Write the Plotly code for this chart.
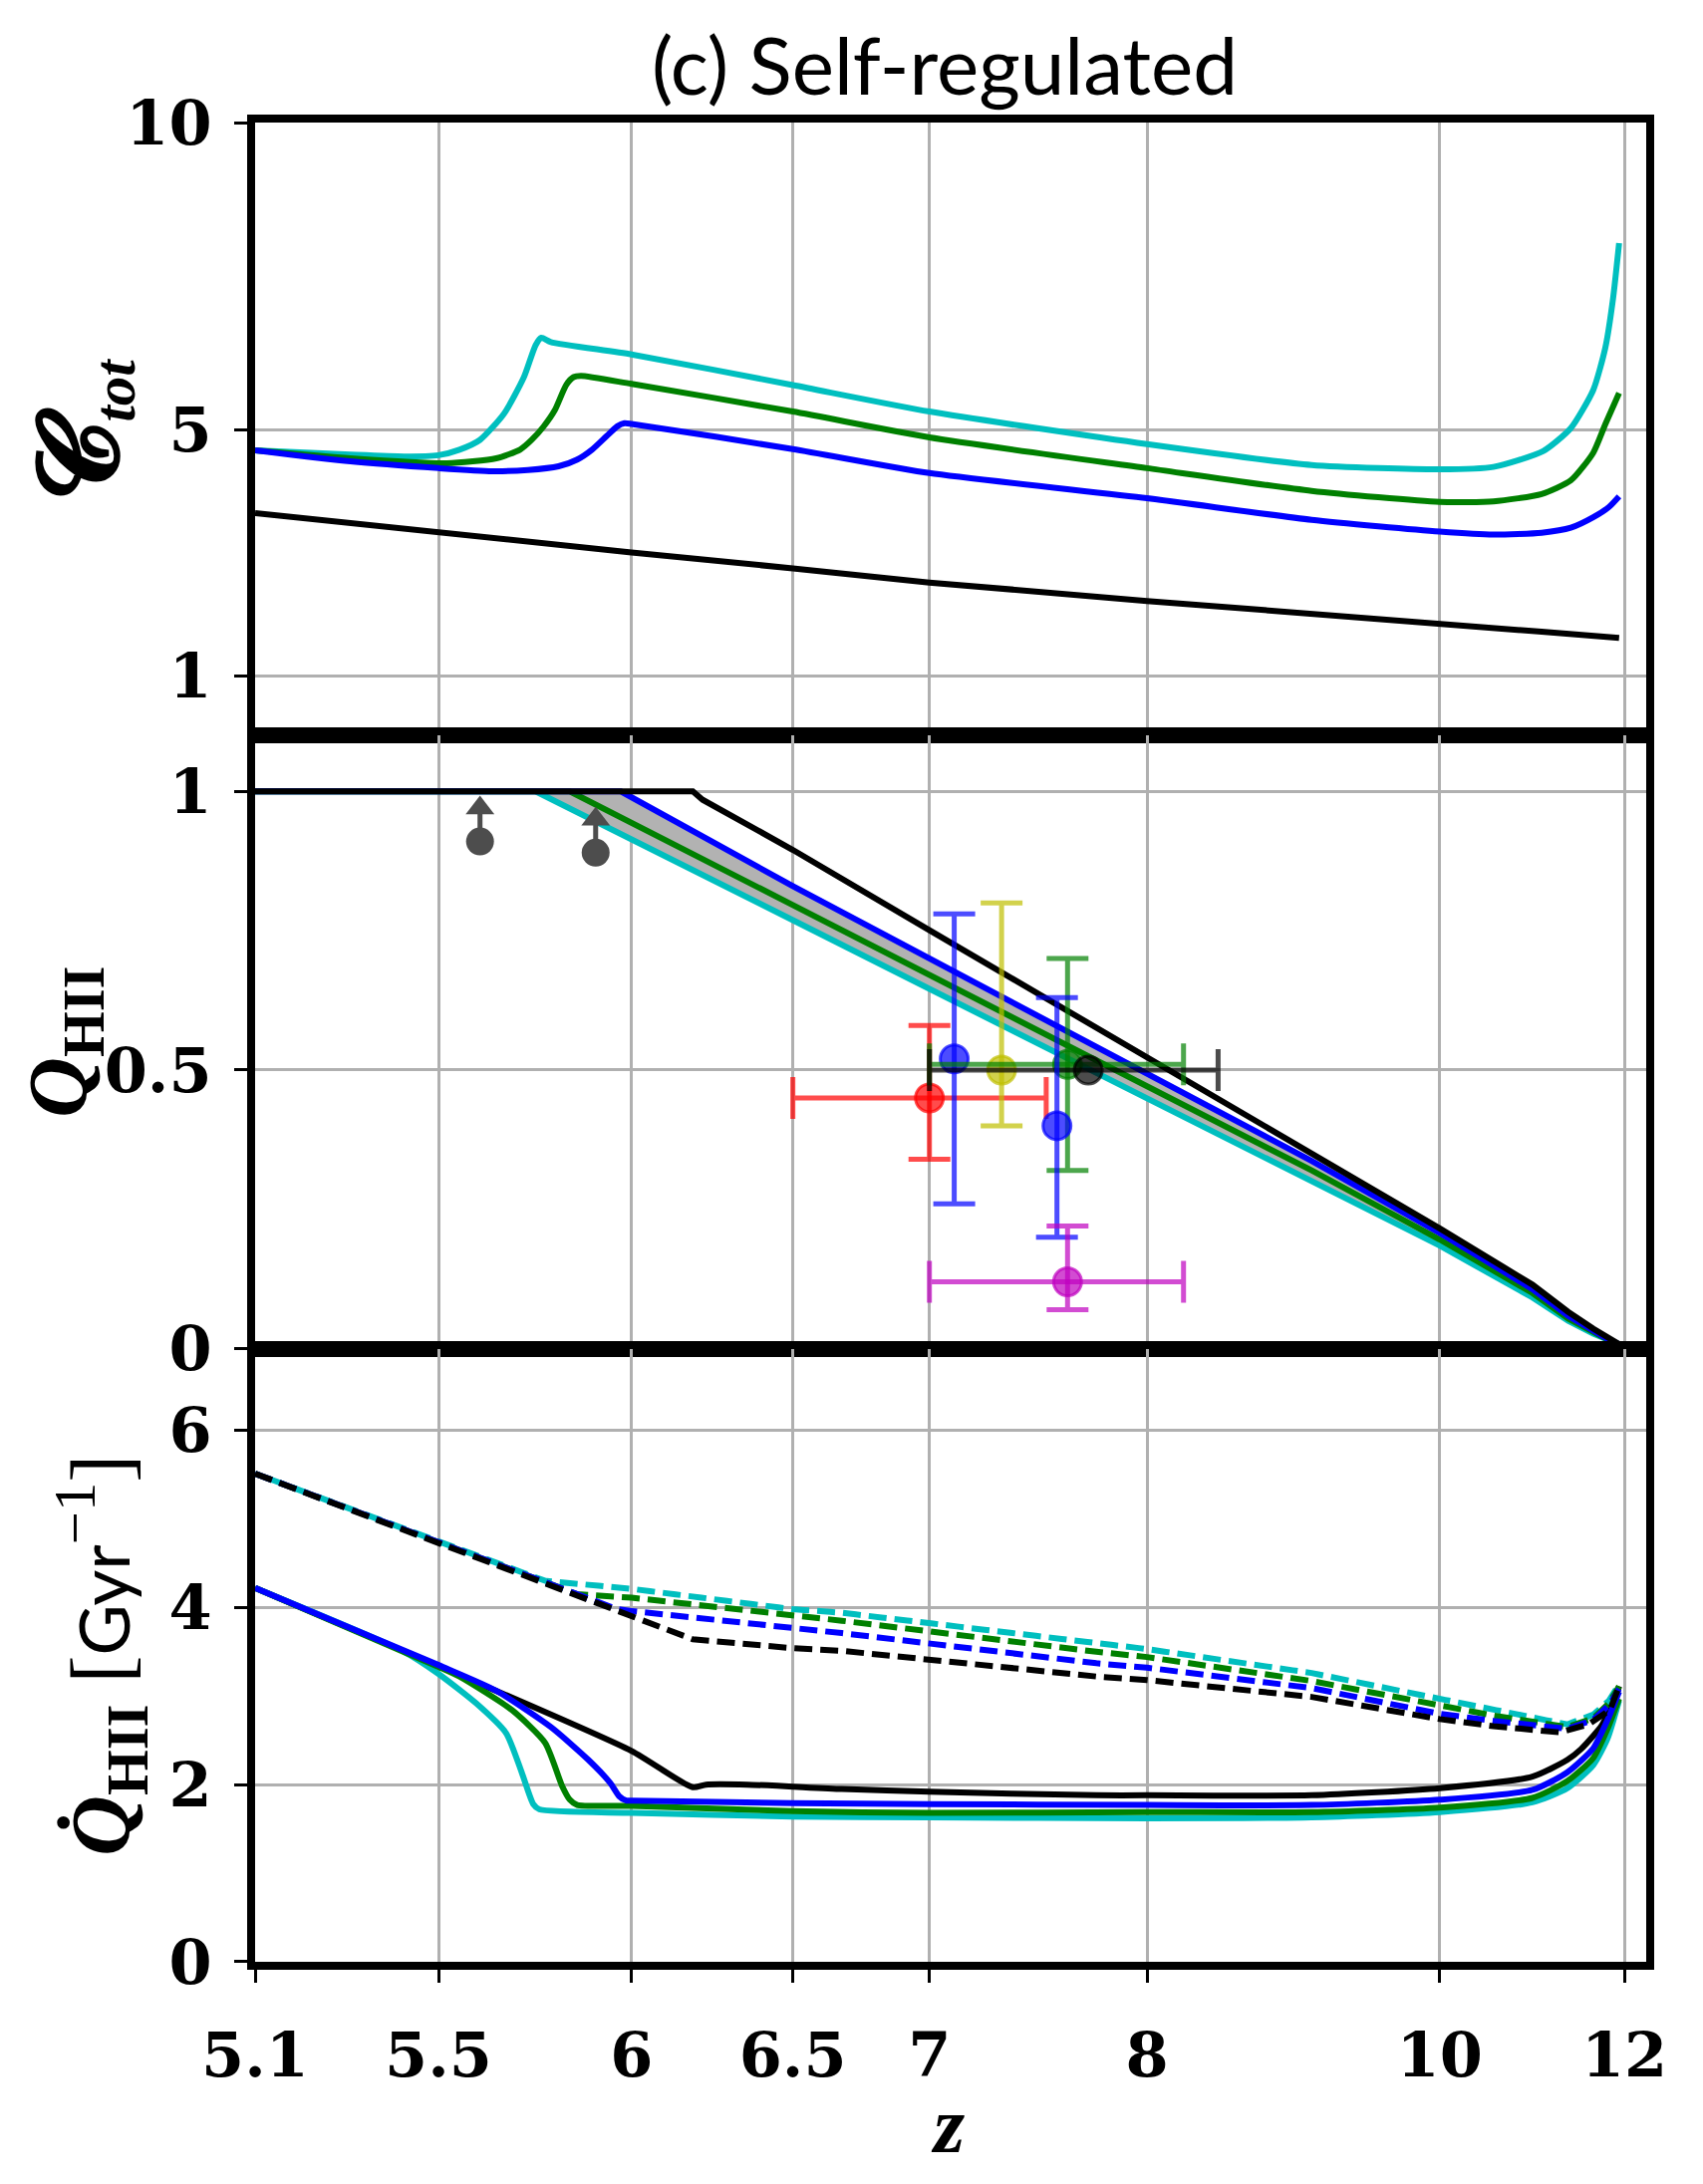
import numpy as np
import plotly.graph_objects as go
from plotly.subplots import make_subplots

# x axis is linear in cosmic time (t ~ (1+z)^-1.5), labelled in redshift
Z_TICKS = [5.1, 5.5, 6, 6.5, 7, 8, 10, 12]
Z_TICK_TEXT = ["5.1", "5.5", "6", "6.5", "7", "8", "10", "12"]
Z_MIN, Z_MAX = 5.1, 12.3

# ---- panel (a): clumping factor C_tot ----
C_BLACK_Z = [5.1, 5.5, 6.0, 6.5, 7.0, 8.0, 9.0, 10.0, 11.0, 11.93]
C_BLACK = [3.65, 3.33, 3.01, 2.75, 2.52, 2.22, 2.02, 1.85, 1.72, 1.62]
C_BLUE_Z = [5.1, 5.3, 5.5, 5.63, 5.72, 5.8, 5.85, 5.89, 5.93, 5.96, 5.98, 6.0,
            6.5, 7.0, 8.0, 9.0, 10.0, 10.5, 11.0, 11.33, 11.6, 11.8, 11.93]
C_BLUE = [4.67, 4.49, 4.38, 4.33, 4.35, 4.41, 4.52, 4.68, 4.90, 5.06, 5.11, 5.10,
          4.69, 4.30, 3.89, 3.54, 3.35, 3.30, 3.33, 3.41, 3.58, 3.75, 3.92]
C_GREEN_Z = [5.1, 5.3, 5.52, 5.64, 5.7, 5.73, 5.76, 5.79, 5.82, 5.84, 5.86, 6.0,
             6.5, 7.0, 8.0, 9.0, 10.0, 10.5, 11.0, 11.33, 11.6, 11.75, 11.93]
C_GREEN = [4.67, 4.54, 4.46, 4.54, 4.68, 4.84, 5.05, 5.32, 5.73, 5.86, 5.88, 5.75,
           5.30, 4.88, 4.38, 4.01, 3.83, 3.84, 3.96, 4.18, 4.63, 5.09, 5.60]
C_CYAN_Z = [5.1, 5.3, 5.42, 5.5, 5.55, 5.6, 5.66, 5.71, 5.74, 5.755, 5.78, 6.0,
            6.5, 7.0, 8.0, 9.0, 10.0, 10.5, 11.02, 11.33, 11.6, 11.75, 11.85, 11.93]
C_CYAN = [4.67, 4.60, 4.57, 4.59, 4.68, 4.84, 5.27, 5.86, 6.38, 6.50, 6.43, 6.23,
          5.73, 5.30, 4.77, 4.43, 4.36, 4.40, 4.66, 5.03, 5.65, 6.33, 7.13, 8.04]

# ---- panel (b): ionized fraction Q_HII ----
Q_BLACK_Z = [5.1, 6.18, 6.21, 6.5, 7.0, 8.0, 9.0, 10.0, 10.9, 11.3, 11.6, 11.8, 11.93]
Q_BLACK = [1.0, 1.0, 0.985, 0.895, 0.751, 0.522, 0.349, 0.216, 0.115, 0.066, 0.036, 0.018, 0.008]
Q_BLUE_Z = [5.1, 5.97, 6.5, 7.0, 8.0, 9.0, 10.0, 10.9, 11.3, 11.6, 11.8, 11.93]
Q_BLUE = [1.0, 1.0, 0.83, 0.70, 0.495, 0.337, 0.208, 0.107, 0.059, 0.031, 0.016, 0.008]
Q_GREEN_Z = [5.1, 5.83, 6.5, 7.0, 8.0, 9.0, 10.0, 10.9, 11.3, 11.6, 11.8, 11.93]
Q_GREEN = [1.0, 1.0, 0.796, 0.670, 0.471, 0.320, 0.196, 0.100, 0.054, 0.029, 0.015, 0.008]
Q_CYAN_Z = [5.1, 5.74, 6.5, 7.0, 8.0, 9.0, 10.0, 10.9, 11.3, 11.6, 11.8, 11.93]
Q_CYAN = [1.0, 1.0, 0.769, 0.646, 0.451, 0.303, 0.185, 0.092, 0.050, 0.027, 0.014, 0.008]

# observational constraints
OBS_Z = [7.0, 7.1, 7.3, 7.6, 7.7, 7.55, 7.6]
OBS_Q = [0.45, 0.52, 0.50, 0.51, 0.50, 0.40, 0.12]
OBS_Z_LO = [0.5, 0.0, 0.0, 0.6, 0.7, 0.0, 0.6]
OBS_Z_HI = [0.5, 0.0, 0.0, 0.6, 0.7, 0.0, 0.6]
OBS_Q_LO = [0.11, 0.26, 0.10, 0.19, 0.0, 0.20, 0.05]
OBS_Q_HI = [0.13, 0.26, 0.30, 0.19, 0.0, 0.23, 0.10]
OBS_RGB = ["255,0,0", "0,0,255", "191,191,0", "0,128,0", "0,0,0", "0,0,255", "191,0,191"]
LIM_Z = [5.6, 5.9]
LIM_Q = [0.91, 0.89]

# ---- panel (c): dQ/dt ----
R_BLACK_Z = [5.1, 5.5, 6.0, 6.18, 6.22, 6.35, 6.67, 7.0, 7.74, 8.0, 9.0, 10.0,
             10.9, 11.29, 11.45, 11.6, 11.7, 11.78, 11.87, 11.93]
R_BLACK = [4.22, 3.34, 2.38, 1.97, 2.00, 2.00, 1.95, 1.92, 1.88, 1.88, 1.88, 1.96,
           2.09, 2.28, 2.40, 2.55, 2.66, 2.79, 2.95, 3.11]
R_BLUE_Z = [5.1, 5.5, 5.64, 5.78, 5.88, 5.94, 5.965, 5.985, 6.0, 6.5, 7.0, 8.0, 9.0,
            10.0, 10.9, 11.29, 11.6, 11.78, 11.93]
R_BLUE = [4.22, 3.35, 3.06, 2.65, 2.28, 2.02, 1.87, 1.82, 1.82, 1.79, 1.78, 1.77, 1.77,
          1.83, 1.94, 2.14, 2.41, 2.73, 3.05]
R_GREEN_Z = [5.1, 5.5, 5.55, 5.68, 5.765, 5.81, 5.83, 5.85, 6.0, 6.5, 7.0, 8.0, 9.0,
             10.0, 10.9, 11.29, 11.6, 11.78, 11.93]
R_GREEN = [4.22, 3.33, 3.22, 2.84, 2.47, 1.98, 1.83, 1.77, 1.76, 1.70, 1.68, 1.69, 1.69,
           1.74, 1.85, 2.04, 2.30, 2.63, 2.97]
R_CYAN_Z = [5.1, 5.42, 5.5, 5.59, 5.665, 5.705, 5.734, 5.75, 6.0, 6.5, 7.0, 8.0, 9.0,
            10.0, 10.9, 11.29, 11.6, 11.78, 11.93]
R_CYAN = [4.22, 3.50, 3.25, 2.92, 2.58, 2.13, 1.78, 1.72, 1.68, 1.64, 1.63, 1.62, 1.63,
          1.69, 1.80, 1.96, 2.22, 2.52, 2.95]

D_BLACK_Z = [5.1, 6.18, 6.5, 6.67, 7.74, 8.0, 9.0, 10.0, 10.5, 11.2, 11.54, 11.81, 11.93]
D_BLACK = [5.51, 3.64, 3.54, 3.51, 3.22, 3.18, 2.99, 2.74, 2.66, 2.59, 2.68, 2.84, 3.11]
D_BLUE_Z = [5.1, 5.96, 6.0, 6.5, 6.67, 7.74, 8.0, 9.0, 10.0, 10.5, 11.29, 11.6, 11.8, 11.93]
D_BLUE = [5.51, 3.98, 3.96, 3.76, 3.71, 3.37, 3.32, 3.09, 2.80, 2.72, 2.63, 2.73, 2.90, 3.08]
D_GREEN_Z = [5.1, 5.85, 6.0, 6.5, 6.67, 7.74, 8.0, 9.0, 10.0, 10.5, 11.29, 11.6, 11.8, 11.93]
D_GREEN = [5.51, 4.15, 4.11, 3.90, 3.85, 3.50, 3.44, 3.17, 2.89, 2.78, 2.65, 2.75, 2.92, 3.11]
D_CYAN_Z = [5.1, 5.765, 6.0, 6.5, 6.67, 7.74, 8.0, 9.0, 10.0, 10.5, 11.29, 11.6, 11.8, 11.93]
D_CYAN = [5.51, 4.30, 4.21, 3.98, 3.94, 3.59, 3.53, 3.26, 2.97, 2.85, 2.68, 2.79, 2.95, 3.13]

BLACK, BLUE, GREEN, CYAN = "#000000", "#0000ff", "#008000", "#00bfbf"
GRID = "#b0b0b0"
LW = 6
DASH = "18px,8px"
DASH_SHIFTED = "5px,8px,13px,0px"
LIMIT_STEM = 0.06

TICK_FONT = dict(family="DejaVu Serif", size=62, color="black", weight="bold")
LABEL_FONT = dict(family="Liberation Serif", size=84, color="black")


def zx(z):
    return -(1.0 + np.asarray(z, dtype=float)) ** -1.5


fig = make_subplots(rows=3, cols=1, shared_xaxes=True, vertical_spacing=0)


def add_line(zs, ys, color, row, dash="solid", shape="linear"):
    fig.add_trace(go.Scatter(x=zx(zs), y=ys, mode="lines",
                             line=dict(color=color, width=LW, dash=dash, shape=shape, smoothing=0.6),
                             showlegend=False, hoverinfo="skip"), row=row, col=1)


# top panel
add_line(C_BLACK_Z, C_BLACK, BLACK, 1)
add_line(C_CYAN_Z, C_CYAN, CYAN, 1, shape="spline")
add_line(C_GREEN_Z, C_GREEN, GREEN, 1, shape="spline")
add_line(C_BLUE_Z, C_BLUE, BLUE, 1, shape="spline")

# middle panel: shaded band between the extreme models
band_x = np.concatenate([zx(Q_CYAN_Z), zx(Q_BLUE_Z)[::-1]])
band_y = np.concatenate([Q_CYAN, Q_BLUE[::-1]])
fig.add_trace(go.Scatter(x=band_x, y=band_y, mode="lines", fill="toself",
                         fillcolor="#b2b2b2", line=dict(width=0),
                         showlegend=False, hoverinfo="skip"), row=2, col=1)
add_line(Q_CYAN_Z, Q_CYAN, CYAN, 2)
add_line(Q_GREEN_Z, Q_GREEN, GREEN, 2)
add_line(Q_BLUE_Z, Q_BLUE, BLUE, 2)
add_line(Q_BLACK_Z, Q_BLACK, BLACK, 2)

for z, q, zlo, zhi, qlo, qhi, rgb in zip(OBS_Z, OBS_Q, OBS_Z_LO, OBS_Z_HI,
                                         OBS_Q_LO, OBS_Q_HI, OBS_RGB):
    col = f"rgba({rgb},0.7)"
    x0 = zx(z)
    tr = go.Scatter(x=[x0], y=[q], mode="markers",
                    marker=dict(size=28, color=col, line=dict(color=col, width=3)),
                    showlegend=False, hoverinfo="skip")
    if zlo > 0 or zhi > 0:
        tr.error_x = dict(type="data", symmetric=False,
                          array=[zx(z + zhi) - x0], arrayminus=[x0 - zx(z - zlo)],
                          color=col, thickness=5, width=21)
    if qlo > 0 or qhi > 0:
        tr.error_y = dict(type="data", symmetric=False, array=[qhi], arrayminus=[qlo],
                          color=col, thickness=5, width=21)
    fig.add_trace(tr, row=2, col=1)

# lower limits
fig.add_trace(go.Scatter(x=zx(LIM_Z), y=LIM_Q, mode="markers",
                         marker=dict(size=28, color="rgb(77,77,77)"),
                         error_y=dict(type="data", symmetric=False,
                                      array=[LIMIT_STEM] * len(LIM_Q), arrayminus=[0] * len(LIM_Q),
                                      color="rgb(77,77,77)", thickness=5, width=0),
                         showlegend=False, hoverinfo="skip"), row=2, col=1)
fig.add_trace(go.Scatter(x=zx(LIM_Z), y=np.array(LIM_Q) + LIMIT_STEM, mode="markers",
                         marker=dict(size=25, symbol="triangle-up", color="rgb(77,77,77)"),
                         showlegend=False, hoverinfo="skip"), row=2, col=1)

# bottom panel
add_line(R_BLACK_Z, R_BLACK, BLACK, 3, shape="spline")
add_line(R_CYAN_Z, R_CYAN, CYAN, 3, shape="spline")
add_line(R_GREEN_Z, R_GREEN, GREEN, 3, shape="spline")
add_line(R_BLUE_Z, R_BLUE, BLUE, 3, shape="spline")
add_line(D_CYAN_Z, D_CYAN, CYAN, 3, DASH_SHIFTED)
add_line(D_GREEN_Z, D_GREEN, GREEN, 3, DASH)
add_line(D_BLUE_Z, D_BLUE, BLUE, 3, DASH)
add_line(D_BLACK_Z, D_BLACK, BLACK, 3, DASH)

axis_style = dict(showgrid=True, gridcolor=GRID, gridwidth=2.5, showline=True,
                  linecolor="black", linewidth=8, mirror=True, zeroline=False)

for r in (1, 2, 3):
    fig.update_xaxes(range=[zx(Z_MIN), zx(Z_MAX)], tickmode="array",
                     tickvals=zx(Z_TICKS), ticktext=Z_TICK_TEXT,
                     ticks="outside" if r == 3 else "", ticklen=13, tickwidth=3,
                     tickcolor="black", tickfont=TICK_FONT, ticklabelstandoff=20,
                     **axis_style, row=r, col=1)

fig.update_yaxes(range=[0.03, 10], tickvals=[1, 5, 10], ticktext=["1", "5", "10"], row=1, col=1)
fig.update_yaxes(range=[0, 1.1], tickvals=[0, 0.5, 1], ticktext=["0", "0.5", "1"], row=2, col=1)
fig.update_yaxes(range=[0, 6.92], tickvals=[0, 2, 4, 6], ticktext=["0", "2", "4", "6"], row=3, col=1)
fig.update_yaxes(ticks="outside", ticklen=13, tickwidth=3, tickcolor="black",
                 tickfont=TICK_FONT, ticklabelstandoff=10, **axis_style)

fig.add_annotation(xref="paper", yref="paper", x=-0.124, y=5 / 6, textangle=-90,
                   text="<span style='font-size:112px'><b>𝓒</b></span><sub><b><i>tot</i></b></sub>",
                   showarrow=False, xanchor="center", yanchor="middle", font=LABEL_FONT)
fig.add_annotation(xref="paper", yref="paper", x=-0.137, y=0.5, textangle=-90,
                   text="<b><i>Q</i></b><sub><b>HII</b></sub>", showarrow=False,
                   xanchor="center", yanchor="middle", font=LABEL_FONT)
fig.add_annotation(xref="paper", yref="paper", x=-0.110, y=1 / 6, textangle=-90,
                   text="<b><i>Q̇</i></b><sub><b>HII</b></sub> [<span style='font-family:Lato;font-size:70px'>Gyr</span><sup>−1</sup>]",
                   showarrow=False, xanchor="center", yanchor="middle", font=LABEL_FONT)
fig.add_annotation(xref="paper", yref="paper", x=0.498, y=-0.089,
                   text="<b><i>z</i></b>", showarrow=False,
                   xanchor="center", yanchor="middle",
                   font=dict(family="Liberation Serif", size=80, color="black"))

fig.update_layout(
    width=1709, height=2192,
    margin=dict(l=248, r=65, t=115, b=231),
    paper_bgcolor="white", plot_bgcolor="white",
    showlegend=False,
    title=dict(text="(c) Self-regulated", x=0.550, xanchor="center",
               y=1 - 59 / 2192, yanchor="middle", yref="container",
               font=dict(family="Lato", size=80, color="black")),
)

fig.write_html("out.html")
